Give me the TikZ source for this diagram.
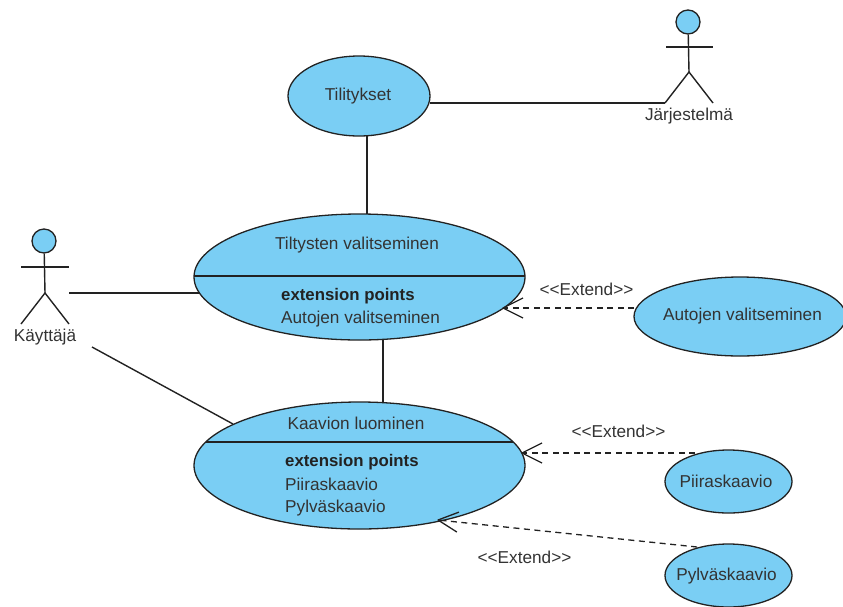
\documentclass[tikz,border=0pt]{standalone}
\usepackage{fontspec}
\setmainfont{Liberation Sans}
\usetikzlibrary{shapes.geometric,arrows.meta}
\definecolor{ucfill}{HTML}{7ACEF4}
\definecolor{ucline}{HTML}{222222}
\definecolor{uctext}{HTML}{333333}
\pgfdeclarearrow{
  name=OpenVee,
  setup code={%
    \pgfarrowssettipend{0pt}%
    \pgfarrowssetlineend{-1pt}%
    \pgfarrowssetbackend{-20pt}%
    \pgfarrowssetvisualbackend{-20pt}%
    \pgfarrowssavethe\pgflinewidth},
  drawing code={%
    \pgfsetdash{}{0pt}%
    \pgfsetroundjoin
    \pgfpathmoveto{\pgfqpoint{-20pt}{10pt}}%
    \pgfpathlineto{\pgfqpoint{0pt}{0pt}}%
    \pgfpathlineto{\pgfqpoint{-20pt}{-10pt}}%
    \pgfusepathqstroke}
}
\tikzset{
  usecase/.style={ellipse,draw=ucline,fill=ucfill,line width=1.3pt,inner sep=0pt},
  head/.style={circle,draw=ucline,fill=ucfill,line width=1.3pt,inner sep=0pt,minimum size=24pt},
  lab/.style={text=uctext,font=\fontsize{17.2}{20}\selectfont,inner sep=0pt,anchor=center},
  labl/.style={lab,anchor=west},
  labb/.style={labl,font=\fontsize{16.8}{20}\selectfont\bfseries,text=ucline},
  conn/.style={draw=ucline,line width=1.4pt},
  ext/.style={draw=ucline,line width=1.3pt,dash pattern=on 6pt off 4.5pt,-OpenVee},
}
\begin{document}
\begin{tikzpicture}[x=1pt,y=-1pt]
\useasboundingbox (0,0) rectangle (843,606);
% use cases
\node[usecase,minimum width=142pt,minimum height=80pt] (tili) at (359,96) {};
\node[lab] (tilil) at (358,96) {Tilitykset};
\node[usecase,minimum width=331pt,minimum height=126pt] (valit) at (359.5,277) {};
\node[usecase,minimum width=331pt,minimum height=127pt] (kaavio) at (359.5,465.5) {};
\node[usecase,minimum width=212pt,minimum height=79pt] (auto) at (740,316.5) {};
\node[usecase,minimum width=127pt,minimum height=63pt] (piira) at (728.5,481.5) {};
\node[usecase,minimum width=127pt,minimum height=63pt] (pylv) at (728.5,575.5) {};
% compartment lines
\coordinate (va) at (194.2,276); \coordinate (vb) at (524.8,276);
\coordinate (ka) at (205.7,442); \coordinate (kb) at (513.3,442);
\draw[conn] (va) -- (vb);
\draw[conn] (ka) -- (kb);
% use case texts
\node[lab] (vt) at (357,245.5) {Tiltysten valitseminen};
\node[labb] (vep) at (281,296) {extension points};
\node[labl] (vap) at (281,319) {Autojen valitseminen};
\node[lab] (kt) at (356,423) {Kaavion luominen};
\node[labb] (kep) at (285,462) {extension points};
\node[labl] (kp1) at (285,484.5) {Piiraskaavio};
\node[labl] (kp2) at (285,508) {Pylväskaavio};
\node[lab] (autol) at (742.5,316.5) {Autojen valitseminen};
\node[lab] (piiral) at (726,481.5) {Piiraskaavio};
\node[lab] (pylvl) at (726.5,576) {Pylväskaavio};
% actor: Kayttaja
\node[head] (h1) at (44,241) {};
\coordinate (c1) at (45,293);
\coordinate (a1l) at (21,267); \coordinate (a1r) at (69,267);
\coordinate (f1l) at (21,324); \coordinate (f1r) at (69,324);
\draw[conn] (h1) -- (c1);
\draw[conn] (a1l) -- (a1r);
\draw[conn] (f1l) -- (c1) -- (f1r);
\node[lab] (h1l) at (45,337) {Käyttäjä};
% actor: Jarjestelma
\node[head] (h2) at (688,22) {};
\coordinate (c2) at (689,72);
\coordinate (a2l) at (666,47); \coordinate (a2r) at (713,47);
\coordinate (f2l) at (665,103); \coordinate (f2r) at (713,103);
\draw[conn] (h2) -- (c2);
\draw[conn] (a2l) -- (a2r);
\draw[conn] (f2l) -- (c2) -- (f2r);
\node[lab] (h2l) at (689,116) {Järjestelmä};
% connectors
\coordinate (t1) at (430,103);
\draw[conn] (t1) -- (f2l);
\coordinate (t2) at (367,135.5); \coordinate (v2) at (367,214);
\draw[conn] (t2) -- (v2);
\coordinate (k1) at (69,293); \coordinate (k2) at (200,293);
\draw[conn] (k1) -- (k2);
\coordinate (k3) at (92,347); \coordinate (k4) at (233,424);
\draw[conn] (k3) -- (k4);
\coordinate (v3) at (383,340); \coordinate (k5) at (383,403);
\draw[conn] (v3) -- (k5);
% extend
\coordinate (e1s) at (634,308); \coordinate (e1t) at (503,308);
\draw[ext] (e1s) -- (e1t);
\coordinate (e2s) at (695,453); \coordinate (e2t) at (522,453);
\draw[ext] (e2s) -- (e2t);
\coordinate (e3s) at (697,547); \coordinate (e3t) at (438,520);
\draw[ext] (e3s) -- (e3t);
\node[lab] (x1) at (586.5,289) {<{}<Extend>{}>};
\node[lab] (x2) at (618.5,431) {<{}<Extend>{}>};
\node[lab] (x3) at (524.5,557) {<{}<Extend>{}>};
\end{tikzpicture}
\end{document}
